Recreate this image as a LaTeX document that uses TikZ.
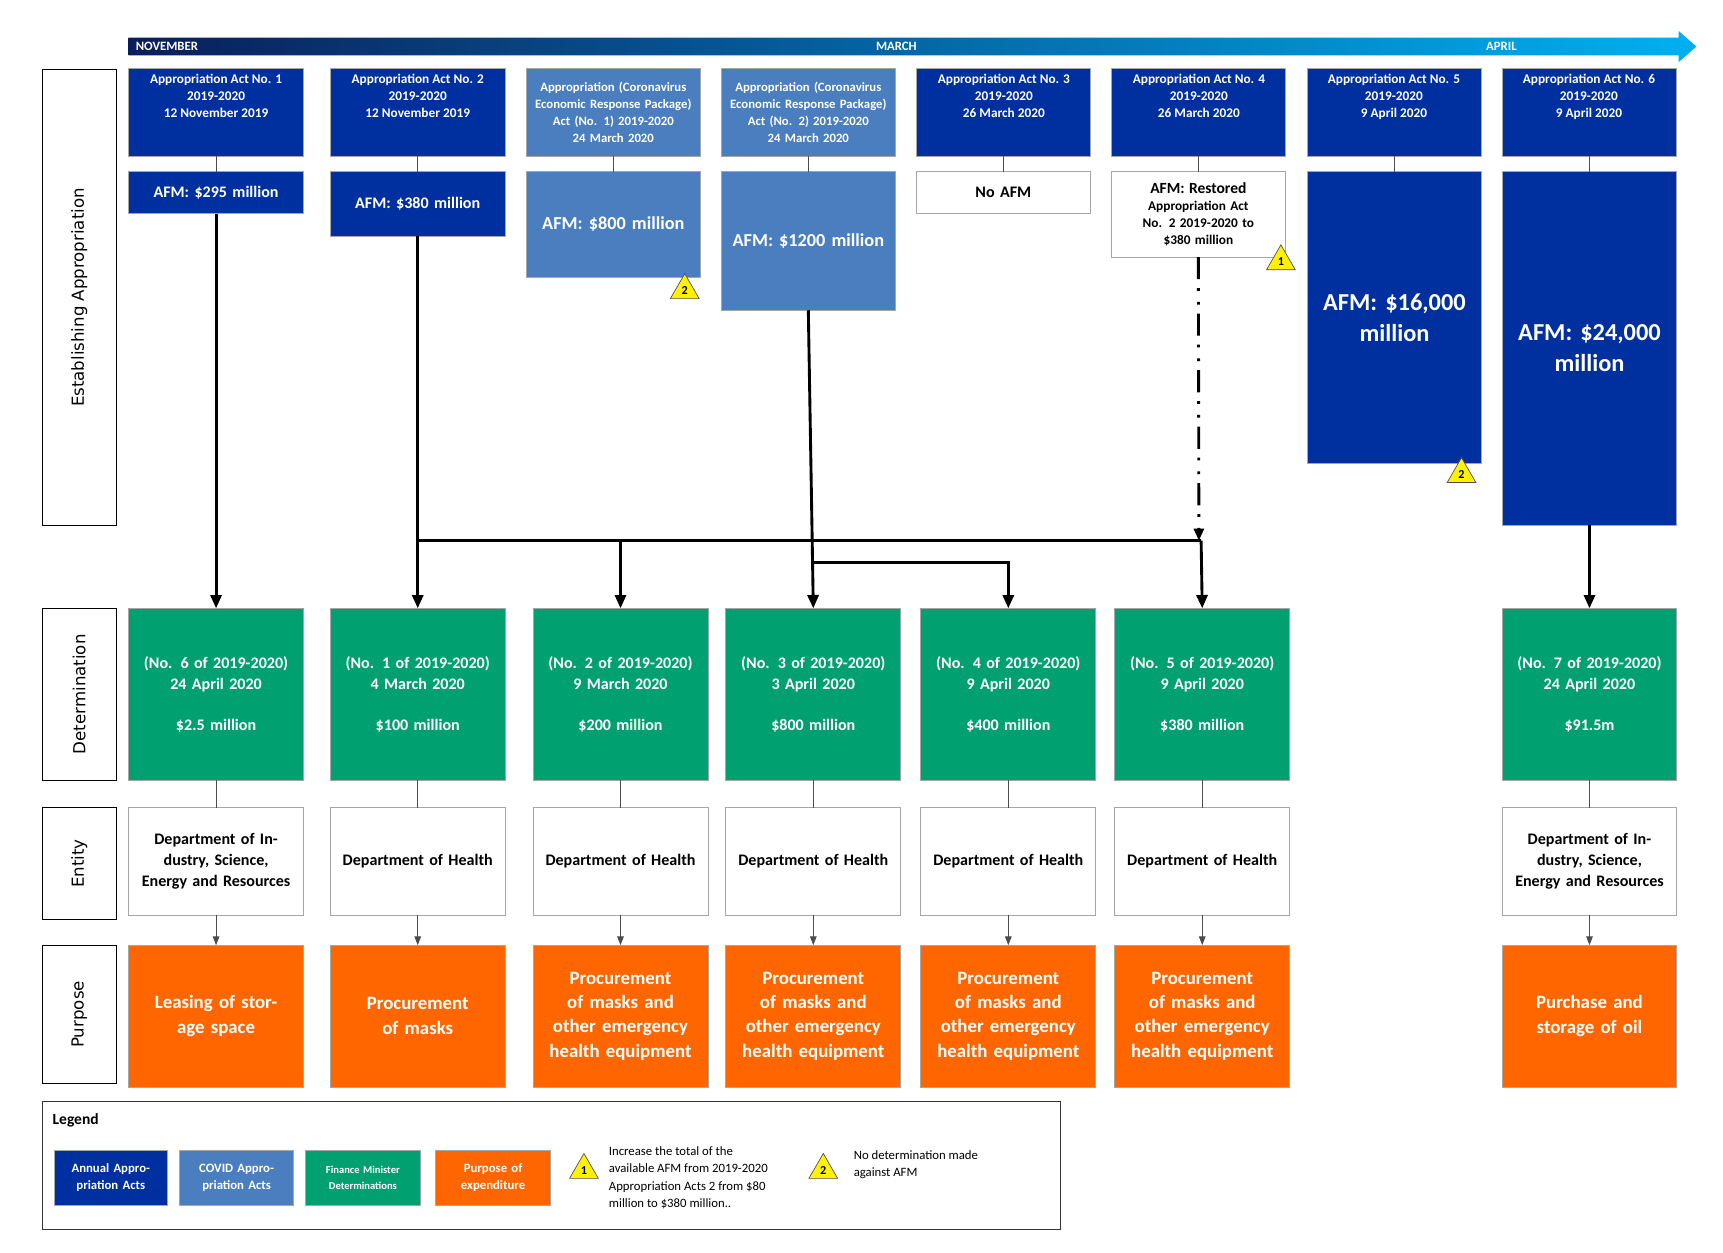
\documentclass[tikz,border=0pt]{standalone}
\usepackage{fontspec}
\setmainfont{Carlito}
\newfontfamily\sidefont{DejaVu Sans}
\usetikzlibrary{arrows.meta,shapes.geometric,calc}
\definecolor{navy}{HTML}{0030A0}
\definecolor{covid}{HTML}{4A7EBF}
\definecolor{fmd}{HTML}{00A070}
\definecolor{purp}{HTML}{FF6600}
\definecolor{bardark}{HTML}{0A1E5A}
\definecolor{barmid}{HTML}{0A5AAA}
\definecolor{barcyan}{HTML}{00B0F0}
\tikzset{
 base/.style={draw=gray!70,line width=0.8pt,inner sep=2pt,outer sep=0pt,align=center,font=\bfseries},
 act/.style={base,fill=navy,text=white,font=\bfseries\fontsize{12}{15.5}\selectfont},
 cov/.style={base,fill=covid,text=white,font=\bfseries\fontsize{12}{15.5}\selectfont},
 det/.style={base,fill=fmd,text=white,font=\bfseries\fontsize{14.5}{19}\selectfont},
 ent/.style={base,fill=white,text=black,font=\bfseries\fontsize{14.5}{19}\selectfont},
 pur/.style={base,fill=purp,text=white,font=\bfseries\fontsize{17}{22}\selectfont},
 side/.style={draw=black,line width=1pt,fill=white,inner sep=0pt,outer sep=0pt},
 sidetext/.style={rotate=90,font=\sidefont\fontsize{15}{18}\selectfont},
 thin/.style={draw=black!70,line width=0.8pt},
 thinarr/.style={thin,-{Triangle[length=8pt,width=6pt]}},
 thick/.style={line width=2.6pt,draw=black},
 thickarr/.style={thick,-{Triangle[length=12pt,width=10pt]}},
 warn/.style={regular polygon,regular polygon sides=3,draw=gray!60!black,line width=0.6pt,fill=yellow,minimum size=30pt,inner sep=0pt,font=\bfseries\fontsize{11}{12}\selectfont,text depth=-6pt},
}
\newcommand\mybox[7]{\node[#6,minimum width=#4-#2,minimum height=#5-#3,text width=#4-#2-6] (#1) at ({(#2+#4)/2},{(#3+#5)/2}) {#7};}
\begin{document}
\begin{tikzpicture}[x=1pt,y=-1pt]
\useasboundingbox (0,0) rectangle (1555,1130);
% timeline
\shade[left color=bardark,middle color=barmid,right color=barcyan] (116,34) -- (1515,34) -- (1515,28) -- (1531,42) -- (1515,56) -- (1515,50) -- (116,50) -- cycle;
\node[anchor=west,text=white,font=\bfseries\fontsize{11.5}{12}\selectfont] (nov) at (119,42) {NOVEMBER};
\node[text=white,font=\bfseries\fontsize{11.5}{12}\selectfont] (mar) at (809,42) {MARCH};
\node[text=white,font=\bfseries\fontsize{11.5}{12}\selectfont] (apr) at (1355,42) {APRIL};
% side labels
\mybox{s1}{38}{63}{105}{474}{side}{}
\node[sidetext] at (s1) {Establishing Appropriation};
\mybox{s2}{38}{549}{105}{704}{side}{}
\node[sidetext] at (s2) {Determination};
\mybox{s3}{38}{729}{105}{830}{side}{}
\node[sidetext] at (s3) {Entity};
\mybox{s4}{38}{853}{105}{978}{side}{}
\node[sidetext] at (s4) {Purpose};
% acts
\mybox{a1}{116}{62}{274}{141}{act,anchor=center}{}
\node[anchor=north,text=white,align=center,font=\bfseries\fontsize{12}{15.5}\selectfont] at (195,63) {Appropriation Act No. 1\\2019-2020\\12 November 2019};
\mybox{a2}{298}{62}{456}{141}{act}{}
\node[anchor=north,text=white,align=center,font=\bfseries\fontsize{12}{15.5}\selectfont] at (377,63) {Appropriation Act No. 2\\2019-2020\\12 November 2019};
\mybox{a3}{475}{62}{632}{141}{cov,font=\bfseries\fontsize{11.5}{15.5}\selectfont}{Appropriation (Coronavirus Economic Response Package) Act (No. 1) 2019-2020\\24 March 2020}
\mybox{a4}{651}{62}{808}{141}{cov,font=\bfseries\fontsize{11.5}{15.5}\selectfont}{Appropriation (Coronavirus Economic Response Package) Act (No. 2) 2019-2020\\24 March 2020}
\mybox{a5}{827}{62}{984}{141}{act}{}
\node[anchor=north,text=white,align=center,font=\bfseries\fontsize{12}{15.5}\selectfont] at (906,63) {Appropriation Act No. 3\\2019-2020\\26 March 2020};
\mybox{a6}{1003}{62}{1160}{141}{act}{}
\node[anchor=north,text=white,align=center,font=\bfseries\fontsize{12}{15.5}\selectfont] at (1082,63) {Appropriation Act No. 4\\2019-2020\\26 March 2020};
\mybox{a7}{1180}{62}{1337}{141}{act}{}
\node[anchor=north,text=white,align=center,font=\bfseries\fontsize{12}{15.5}\selectfont] at (1258,63) {Appropriation Act No. 5\\2019-2020\\9 April 2020};
\mybox{a8}{1356}{62}{1513}{141}{act}{}
\node[anchor=north,text=white,align=center,font=\bfseries\fontsize{12}{15.5}\selectfont] at (1434,63) {Appropriation Act No. 6\\2019-2020\\9 April 2020};
% AFM boxes
\mybox{f1}{116}{155}{274}{193}{act,font=\bfseries\fontsize{14.5}{18}\selectfont}{AFM: \$295 million}
\mybox{f2}{298}{155}{456}{213}{act,font=\bfseries\fontsize{14.5}{18}\selectfont}{AFM: \$380 million}
\mybox{f3}{475}{155}{632}{250}{cov,font=\bfseries\fontsize{16.5}{20}\selectfont}{AFM: \$800 million}
\mybox{f4}{651}{155}{808}{280}{cov,font=\bfseries\fontsize{16.5}{20}\selectfont}{AFM: \$1200 million}
\mybox{f5}{827}{155}{984}{193}{ent,font=\bfseries\fontsize{14.5}{18}\selectfont}{No AFM}
\mybox{f6}{1003}{155}{1160}{232}{ent,font=\bfseries\fontsize{12}{15.5}\selectfont}{{\fontsize{14}{17}\selectfont AFM: Restored}\\Appropriation Act No. 2 2019-2020 to\\\$380 million}
\mybox{f7}{1180}{155}{1337}{418}{act,font=\bfseries\fontsize{22}{28}\selectfont}{AFM: \$16,000 million}
\mybox{f8}{1356}{155}{1513}{474}{act,font=\bfseries\fontsize{22}{28}\selectfont}{AFM: \$24,000 million}
\foreach \i in {1,...,8} {\draw[thin] (a\i.south) -- (f\i.north);}
% warnings
\node[warn] (w1) at (618,262) {2};
\node[warn] (w2) at (1156,236) {1};
\node[warn] (w3) at (1319,428) {2};
% determinations
\mybox{d1}{116}{549}{274}{704}{det}{(No. 6 of 2019-2020)\\24 April 2020\\[18pt]\$2.5 million}
\mybox{d2}{298}{549}{456}{704}{det}{(No. 1 of 2019-2020)\\4 March 2020\\[18pt]\$100 million}
\mybox{d3}{481}{549}{639}{704}{det}{(No. 2 of 2019-2020)\\9 March 2020\\[18pt]\$200 million}
\mybox{d4}{655}{549}{813}{704}{det}{(No. 3 of 2019-2020)\\3 April 2020\\[18pt]\$800 million}
\mybox{d5}{831}{549}{989}{704}{det}{(No. 4 of 2019-2020)\\9 April 2020\\[18pt]\$400 million}
\mybox{d6}{1006}{549}{1164}{704}{det}{(No. 5 of 2019-2020)\\9 April 2020\\[18pt]\$380 million}
\mybox{d7}{1356}{549}{1513}{704}{det}{(No. 7 of 2019-2020)\\24 April 2020\\[18pt]\$91.5m}
% entities
\mybox{e1}{116}{729}{274}{826}{ent}{Department of Industry, Science, Energy and Resources}
\mybox{e2}{298}{729}{456}{826}{ent}{Department of Health}
\mybox{e3}{481}{729}{639}{826}{ent}{Department of Health}
\mybox{e4}{655}{729}{813}{826}{ent}{Department of Health}
\mybox{e5}{831}{729}{989}{826}{ent}{Department of Health}
\mybox{e6}{1006}{729}{1164}{826}{ent}{Department of Health}
\mybox{e7}{1356}{729}{1513}{826}{ent}{Department of Industry, Science, Energy and Resources}
% purposes
\mybox{p1}{116}{853}{274}{981}{pur}{Leasing of storage space}
\mybox{p2}{298}{853}{456}{981}{pur}{Procurement of masks}
\mybox{p3}{481}{853}{639}{981}{pur}{Procurement of masks and other emergency health equipment}
\mybox{p4}{655}{853}{813}{981}{pur}{Procurement of masks and other emergency health equipment}
\mybox{p5}{831}{853}{989}{981}{pur}{Procurement of masks and other emergency health equipment}
\mybox{p6}{1006}{853}{1164}{981}{pur}{Procurement of masks and other emergency health equipment}
\mybox{p7}{1356}{853}{1513}{981}{pur}{Purchase and storage of oil}
\foreach \i in {1,...,7} {\draw[thin] (d\i.south) -- (e\i.north); \draw[thinarr] (e\i.south) -- (p\i.north);}
% thick connectors
\coordinate (b0) at (377,488);
\coordinate (b3) at (560,488);
\coordinate (b4) at (733,488);
\coordinate (b6) at (1084,488);
\coordinate (k4) at (733,508);
\coordinate (k5) at (910,508);
\draw[thickarr] (f1.south) -- (d1.north);
\draw[thickarr] (f2.south) -- (d2.north);
\draw[thick] (b0) -- (b6);
\draw[thickarr] (b3) -- (d3.north);
\draw[thickarr] (f4.south) -- (b4) -- (d4.north);
\draw[thickarr] (k4) -- (k5) -- (d5.north);
\draw[thickarr] (b6) -- (d6.north);
\draw[line width=2.6pt,dash pattern=on 20pt off 8pt on 2.5pt off 10pt on 2.5pt off 8pt,-{Triangle[length=11pt,width=9pt]}] (f6.south) -- (1082,488);
\draw[thickarr] (f8.south) -- (d7.north);
% legend
\draw[line width=1pt,draw=black!80] (38,994) rectangle (957,1110);
\node[anchor=west,font=\bfseries\fontsize{14}{17}\selectfont] (lg) at (44,1011) {Legend};
\mybox{l1}{49}{1038}{151}{1088}{act,font=\bfseries\fontsize{11.5}{15.5}\selectfont}{Annual Appropriation Acts}
\mybox{l2}{162}{1038}{265}{1088}{cov,font=\bfseries\fontsize{11.5}{15.5}\selectfont}{COVID Appropriation Acts}
\mybox{l3}{276}{1038}{379}{1088}{det,font=\bfseries\fontsize{9.5}{15}\selectfont}{Finance Minister Determinations}
\mybox{l4}{393}{1038}{497}{1088}{pur,font=\bfseries\fontsize{11.5}{15.5}\selectfont}{Purpose of expenditure}
\node[warn] (lw1) at (527,1056) {1};
\node[anchor=west,align=left,font=\fontsize{11.5}{15.8}\selectfont] (lt1) at (546,1063) {Increase the total of the\\available AFM from 2019-2020\\Appropriation Acts 2 from \$80\\million to \$380 million..};
\node[warn] (lw2) at (743,1056) {2};
\node[anchor=west,align=left,font=\fontsize{11.5}{15.8}\selectfont] (lt2) at (767,1051) {No determination made\\against AFM};
\end{tikzpicture}
\end{document}
